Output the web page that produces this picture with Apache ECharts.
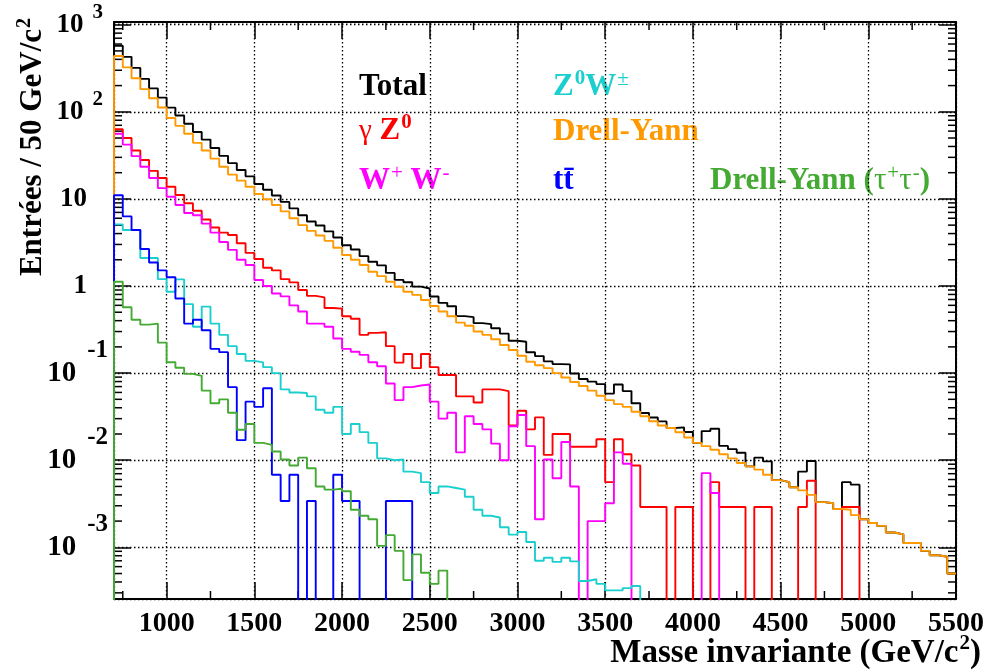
<!DOCTYPE html>
<html>
<head>
<meta charset="utf-8">
<script src="https://cdn.jsdelivr.net/npm/echarts@6/dist/echarts.min.js"></script>
<style>
  html, body { margin: 0; padding: 0; background: #fff; }
  #chart { width: 988px; height: 672px; }
</style>
</head>
<body>
<div id="chart"></div>
<script>
// histogramme 700 - 5500 GeV, bins de 50 GeV
const xMin = 700
const xMax = 5500
const binWidth = 50
const yMin = 0.000255
const yMax = 1074

const drellYan = [
  437, 324, 243, 182, 143, 112, 85, 69, 56, 44,
  36, 29, 23.4, 19, 16.2, 13.8, 11.4, 9.9, 8.5, 7.2,
  6.0, 5.0, 4.3, 3.8, 3.3, 2.75, 2.27, 2.0, 1.74, 1.46,
  1.30, 1.12, 0.98, 0.86, 0.79, 0.69, 0.59, 0.51, 0.45, 0.38,
  0.35, 0.30, 0.275, 0.245, 0.21, 0.184, 0.158, 0.135, 0.123, 0.114,
  0.100, 0.089, 0.079, 0.071, 0.063, 0.055, 0.049, 0.044, 0.041, 0.036,
  0.032, 0.028, 0.025, 0.0234, 0.0209, 0.0182, 0.0158, 0.0145, 0.0132, 0.0117,
  0.0105, 0.0093, 0.0085, 0.0078, 0.0068, 0.0059, 0.0056, 0.0049, 0.0045, 0.0040,
  0.0033, 0.0032, 0.00275, 0.0027, 0.00234, 0.0021, 0.0019, 0.00176, 0.00148, 0.00141,
  0.00112, 0.00112, 0.00091, 0.00081, 0.00078, 0.0005
]
const gammaZ = [
  63, 50, 36, 28, 21, 17.4, 13.8, 11.1, 8.9, 7.3,
  5.8, 4.7, 4.1, 3.85, 3.1, 2.4, 2.04, 1.62, 1.51, 1.20,
  1.10, 0.90, 0.77, 0.74, 0.56, 0.55, 0.45, 0.42, 0.275, 0.29,
  0.295, 0.204, 0.132, 0.166, 0.114, 0.166, 0.117, 0.095, 0.095, 0.054,
  0.054, 0.046, 0.065, 0.065, 0.062, 0.025, 0.037, 0.0226, 0.031, 0.0115,
  0.020, 0.020, 0.0143, 0.0143, 0.0143, 0.0174, 0.0056, 0.0174, 0.0117, 0.0087,
  0.0029, 0.0029, 0.0029, 0, 0.0029, 0.0029, 0, 0, 0.0056, 0.0029,
  0.0029, 0.0029, 0, 0.0029, 0.0029, 0, 0, 0, 0.0029, 0.0058,
  0, 0, 0, 0.0029, 0.0029, 0, 0, 0, 0, 0,
  0, 0, 0, 0, 0, 0
]
const wPlusWMinus = [
  56, 42, 31, 23.4, 17.4, 13.3, 10.6, 8.5, 6.9, 6.5,
  5.2, 4.1, 3.2, 2.6, 2.0, 1.74, 1.17, 1.0, 0.82, 0.76,
  0.60, 0.51, 0.37, 0.37, 0.34, 0.25, 0.19, 0.176, 0.162, 0.133,
  0.12, 0.076, 0.049, 0.069, 0.072, 0.074, 0.047, 0.030, 0.035, 0.0123,
  0.032, 0.026, 0.0226, 0.0155, 0.010, 0.0245, 0.033, 0.0145, 0.0021, 0.0102,
  0.0062, 0.0162, 0.0050, 0, 0.0020, 0.0020, 0.0032, 0.0123, 0.0091, 0,
  0, 0, 0, 0, 0, 0, 0, 0.0071, 0.0042, 0,
  0, 0, 0, 0, 0, 0, 0, 0, 0, 0,
  0, 0, 0, 0, 0, 0, 0, 0, 0, 0,
  0, 0, 0, 0, 0, 0
]
const zW = [
  5.1, 4.4, 4.4, 2.1, 2.1, 1.2, 0.86, 1.19, 0.62, 0.34,
  0.58, 0.37, 0.275, 0.204, 0.166, 0.138, 0.133, 0.117, 0.10, 0.065,
  0.060, 0.059, 0.054, 0.038, 0.035, 0.041, 0.020, 0.026, 0.021, 0.0158,
  0.0105, 0.010, 0.0102, 0.0074, 0.0071, 0.0056, 0.0042, 0.0050, 0.0048, 0.0046,
  0.0038, 0.0027, 0.0023, 0.0022, 0.0017, 0.0014, 0.0015, 0.00115, 0.0007, 0.00076,
  0.00068, 0.00076, 0.00069, 0.00041, 0.00043, 0.00038, 0.00032, 0.00032, 0.00034, 0.00036,
  0, 0, 0, 0, 0, 0, 0, 0, 0, 0,
  0, 0, 0, 0, 0, 0, 0, 0, 0, 0,
  0, 0, 0, 0, 0, 0, 0, 0, 0, 0,
  0, 0, 0, 0, 0, 0
]
const ttbar = [
  11, 6.3, 4.4, 2.66, 1.86, 1.51, 1.26, 0.72, 0.37, 0.41,
  0.31, 0.19, 0.174, 0.069, 0.017, 0.047, 0.041, 0.067, 0.0068, 0.0034,
  0.0068, 0, 0.0034, 0, 0, 0.0068, 0.0034, 0.0034, 0, 0,
  0, 0.0034, 0.0034, 0.0034, 0, 0, 0, 0, 0, 0,
  0, 0, 0, 0, 0, 0, 0, 0, 0, 0,
  0, 0, 0, 0, 0, 0, 0, 0, 0, 0,
  0, 0, 0, 0, 0, 0, 0, 0, 0, 0,
  0, 0, 0, 0, 0, 0, 0, 0, 0, 0,
  0, 0, 0, 0, 0, 0, 0, 0, 0, 0,
  0, 0, 0, 0, 0, 0
]
const drellYanTau = [
  1.12, 0.57, 0.41, 0.36, 0.37, 0.224, 0.133, 0.115, 0.098, 0.093,
  0.063, 0.045, 0.050, 0.035, 0.0224, 0.026, 0.0158, 0.015, 0.0126, 0.0102,
  0.0087, 0.0107, 0.0081, 0.0050, 0.0046, 0.0047, 0.0044, 0.0027, 0.0023, 0.0021,
  0.00104, 0.00138, 0.00091, 0.00042, 0.00083, 0.00051, 0.00038, 0.00054, 0, 0,
  0, 0, 0, 0, 0, 0, 0, 0, 0, 0,
  0, 0, 0, 0, 0, 0, 0, 0, 0, 0,
  0, 0, 0, 0, 0, 0, 0, 0, 0, 0,
  0, 0, 0, 0, 0, 0, 0, 0, 0, 0,
  0, 0, 0, 0, 0, 0, 0, 0, 0, 0,
  0, 0, 0, 0, 0, 0
]
// Total = somme des contributions
const total = drellYan.map((v, i) => v + gammaZ[i] + wPlusWMinus[i] + zW[i] + ttbar[i] + drellYanTau[i])

const FONT = 'Liberation Serif'
const FLOOR = 1e-7 // bin vide -> descend sous le cadre (coupé)

function histPoints (vals) {
  let pts = [[xMin, FLOOR]]
  vals.forEach((v, i) => {
    pts.push([xMin + i * binWidth, v > 0 ? v : FLOOR])
  })
  let last = vals[vals.length - 1]
  pts.push([xMin + vals.length * binWidth, last > 0 ? last : FLOOR])
  return pts
}

function histSeries (name, vals, color) {
  return {
    name: name,
    type: 'line',
    step: 'end',
    data: histPoints(vals),
    symbol: 'none',
    clip: true,
    animation: false,
    lineStyle: { color: color, width: 1.9 },
    z: 3
  }
}

// petites graduations (log : 2..9 x 10^k, x : tous les 250)
let yMinorTicks = []
for (let k = -4; k <= 3; k++) {
  for (let m = 2; m <= 9; m++) {
    let v = m * Math.pow(10, k)
    if (v > yMin && v < yMax) yMinorTicks.push(v)
  }
}
let xMinorTicks = []
for (let v = 750; v < xMax; v += 500) xMinorTicks.push(v)

function isPow10 (v) {
  let l = Math.log10(v)
  return Math.abs(l - Math.round(l)) < 1e-6
}

let dom = document.getElementById('chart')
let myChart = echarts.init(dom)

let labelRich = {
  m: { fontFamily: FONT, fontWeight: 'bold', fontSize: 27, color: '#000' },
  q: { fontFamily: FONT, fontWeight: 'bold', fontSize: 29, color: '#000' },
  p: { fontFamily: FONT, fontWeight: 'bold', fontSize: 27, color: '#000', padding: [0, 21, 0, 0] },
  e: { fontFamily: FONT, fontWeight: 'bold', fontSize: 21, color: '#000', padding: [0, 5, 24, 9] },
  n: { fontFamily: FONT, fontWeight: 'bold', fontSize: 25, color: '#000', padding: [0, 0, 46, 11] }
}

let option = {
  backgroundColor: '#fff',
  animation: false,
  grid: { left: 114, right: 32, top: 22, bottom: 73 },
  xAxis: [{
    type: 'value',
    min: xMin,
    max: xMax,
    splitNumber: 10,
    axisLine: { show: true, onZero: false, lineStyle: { color: '#000', width: 2 } },
    axisTick: { show: true, inside: true, length: 17, lineStyle: { color: '#000', width: 1.5 } },
    axisLabel: {
      margin: 11,
      fontFamily: FONT,
      fontWeight: 'bold',
      fontSize: 28,
      color: '#000',
      formatter: function (v) {
        return (v >= 1000 && v % 500 === 0) ? String(v) : ''
      }
    },
    splitLine: { show: true, lineStyle: { color: '#000', width: 1.3, type: [1.5, 2.5] } }
  }, {
    type: 'value',
    position: 'top',
    min: xMin,
    max: xMax,
    splitNumber: 10,
    axisLine: { show: true, onZero: false, lineStyle: { color: '#000', width: 2 } },
    axisTick: { show: true, inside: true, length: 17, lineStyle: { color: '#000', width: 1.5 } },
    axisLabel: { show: false },
    splitLine: { show: false }
  }],
  yAxis: [{
    type: 'log',
    logBase: 10,
    min: yMin,
    max: yMax,
    axisLine: { show: true, onZero: false, lineStyle: { color: '#000', width: 2 } },
    axisTick: { show: true, inside: true, length: 17, lineStyle: { color: '#000', width: 1.5 } },
    axisLabel: {
      margin: 6,
      align: 'right',
      rich: labelRich,
      formatter: function (v) {
        if (!isPow10(v)) return ''
        let k = Math.round(Math.log10(v))
        if (k === 0) return '{p|1}'
        if (k === 1) return '{p|10}'
        if (k > 1) return '{m|10}{e|' + k + '}'
        return '{q|10}{n|' + k + '}'
      }
    },
    splitLine: { show: true, lineStyle: { color: '#000', width: 1.3, type: [1.5, 2.5] } }
  }, {
    type: 'log',
    logBase: 10,
    position: 'right',
    min: yMin,
    max: yMax,
    axisLine: { show: true, onZero: false, lineStyle: { color: '#000', width: 2 } },
    axisTick: { show: true, inside: true, length: 17, lineStyle: { color: '#000', width: 1.5 } },
    axisLabel: { show: false },
    splitLine: { show: false }
  }],
  series: [
    histSeries('Total', total, '#000000'),
    histSeries('γ Z0', gammaZ, '#ff0000'),
    histSeries('W+ W-', wPlusWMinus, '#ff00ff'),
    histSeries('Z0W±', zW, '#1ccfcf'),
    histSeries('Drell-Yann', drellYan, '#ff9900'),
    histSeries('tt', ttbar, '#0000ff'),
    histSeries('Drell-Yann (τ+τ-)', drellYanTau, '#44aa33'),
    {
      type: 'custom',
      coordinateSystem: 'cartesian2d',
      silent: true,
      animation: false,
      data: yMinorTicks.map(v => [xMin, v]),
      renderItem: function (params, api) {
        let p = api.coord([xMin, api.value(1)])
        let cs = params.coordSys
        let st = { stroke: '#000', lineWidth: 1.5 }
        return {
          type: 'group',
          children: [
            { type: 'line', shape: { x1: cs.x, y1: p[1], x2: cs.x + 8, y2: p[1] }, style: st },
            { type: 'line', shape: { x1: cs.x + cs.width - 8, y1: p[1], x2: cs.x + cs.width, y2: p[1] }, style: st }
          ]
        }
      }
    },
    {
      type: 'custom',
      coordinateSystem: 'cartesian2d',
      silent: true,
      animation: false,
      data: xMinorTicks.map(v => [v, 1]),
      renderItem: function (params, api) {
        let p = api.coord([api.value(0), 1])
        let cs = params.coordSys
        let st = { stroke: '#000', lineWidth: 1.5 }
        return {
          type: 'group',
          children: [
            { type: 'line', shape: { x1: p[0], y1: cs.y + cs.height, x2: p[0], y2: cs.y + cs.height - 8 }, style: st },
            { type: 'line', shape: { x1: p[0], y1: cs.y, x2: p[0], y2: cs.y + 8 }, style: st }
          ]
        }
      }
    }
  ],
  graphic: [
    {
      type: 'text', x: 33, y: 18, rotation: Math.PI / 2,
      style: {
        text: 'Entrées / 50 GeV/c{s|2}',
        fontFamily: FONT, fontWeight: 'bold', fontSize: 31, fill: '#000',
        align: 'right', verticalAlign: 'middle',
        rich: { s: { fontFamily: FONT, fontWeight: 'bold', fontSize: 20, padding: [0, 0, 16, 1] } }
      }
    },
    {
      type: 'text', x: 981, y: 653,
      style: {
        text: 'Masse invariante (GeV/c{s|2})',
        fontFamily: FONT, fontWeight: 'bold', fontSize: 33, fill: '#000',
        align: 'right', verticalAlign: 'middle',
        rich: { s: { fontFamily: FONT, fontWeight: 'bold', fontSize: 21, padding: [0, 0, 18, 1] } }
      }
    },
    {
      type: 'text', x: 359, y: 87,
      style: { text: 'Total', fontFamily: FONT, fontWeight: 'bold', fontSize: 31, fill: '#000', align: 'left', verticalAlign: 'middle' }
    },
    {
      type: 'text', x: 359, y: 131,
      style: {
        text: '{g|γ} Z{s|0}',
        fontFamily: FONT, fontWeight: 'bold', fontSize: 31, fill: '#ff0000', align: 'left', verticalAlign: 'middle',
        rich: {
          g: { fontFamily: FONT, fontWeight: 'normal', fontSize: 29 },
          s: { fontFamily: FONT, fontWeight: 'bold', fontSize: 21, padding: [0, 0, 16, 1] }
        }
      }
    },
    {
      type: 'text', x: 359, y: 181,
      style: {
        text: 'W{s|+} W{s|-}',
        fontFamily: FONT, fontWeight: 'bold', fontSize: 31, fill: '#ff00ff', align: 'left', verticalAlign: 'middle',
        rich: { s: { fontFamily: FONT, fontWeight: 'normal', fontSize: 21, padding: [0, 0, 16, 1] } }
      }
    },
    {
      type: 'text', x: 553, y: 87,
      style: {
        text: 'Z{s|0}W{t|±}',
        fontFamily: FONT, fontWeight: 'bold', fontSize: 31, fill: '#1ccfcf', align: 'left', verticalAlign: 'middle',
        rich: {
          s: { fontFamily: FONT, fontWeight: 'bold', fontSize: 21, padding: [0, 0, 16, 1] },
          t: { fontFamily: FONT, fontWeight: 'normal', fontSize: 21, padding: [0, 0, 16, 1] }
        }
      }
    },
    {
      type: 'text', x: 553, y: 132,
      style: { text: 'Drell-Yann', fontFamily: FONT, fontWeight: 'bold', fontSize: 31, fill: '#ff9900', align: 'left', verticalAlign: 'middle' }
    },
    {
      type: 'text', x: 553, y: 181,
      style: { text: 'tt\u0304', fontFamily: FONT, fontWeight: 'bold', fontSize: 31, fill: '#0000ff', align: 'left', verticalAlign: 'middle' }
    },
    {
      type: 'text', x: 710, y: 181,
      style: {
        text: 'Drell-Yann ({g|τ}{s|+}{g|τ}{s|-})',
        fontFamily: FONT, fontWeight: 'bold', fontSize: 31, fill: '#44aa33', align: 'left', verticalAlign: 'middle',
        rich: {
          g: { fontFamily: FONT, fontWeight: 'normal', fontSize: 31 },
          s: { fontFamily: FONT, fontWeight: 'normal', fontSize: 21, padding: [0, 0, 16, 1] }
        }
      }
    }
  ]
}

myChart.setOption(option)
</script>
</body>
</html>
